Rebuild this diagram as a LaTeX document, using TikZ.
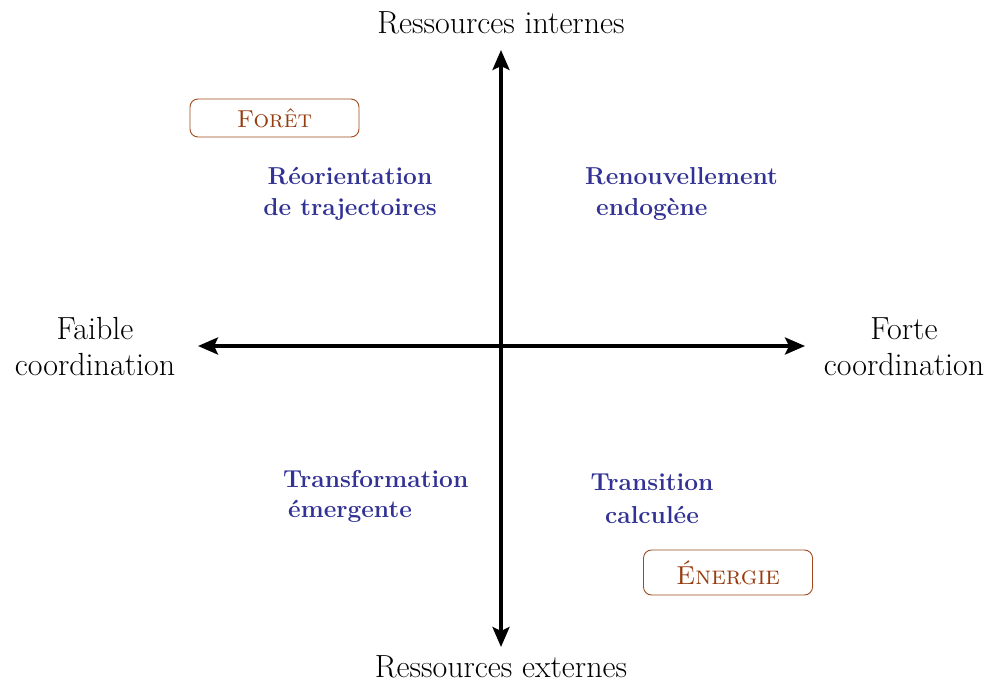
\documentclass[tikz,border=0pt]{standalone}
\usetikzlibrary{arrows.meta}
\definecolor{quadblue}{RGB}{50,50,150}
\definecolor{boxbrown}{RGB}{160,75,30}
\definecolor{boxtext}{RGB}{150,60,15}
\begin{document}
\begin{tikzpicture}[x=1pt,y=-1pt,
  axis/.style={line width=3.6pt,-{Stealth[length=20pt,width=17pt,inset=4pt]}},
  axlabel/.style={inner sep=0pt,font=\fontsize{32}{36}\selectfont,align=center},
  quad/.style={inner sep=0pt,text=quadblue,font=\fontsize{24.5}{33}\selectfont\bfseries},
  sector/.style={draw=boxbrown,line width=0.9pt,rounded corners=8pt,text=boxtext,
    minimum width=169pt,minimum height=38pt,inner sep=0pt,font=\fontsize{24.5}{28}\selectfont\scshape}]
\useasboundingbox (0,0) rectangle (990,682);
\coordinate (c) at (501,346);
\coordinate (top) at (501,50);
\coordinate (bot) at (501,647);
\coordinate (lft) at (198,346);
\coordinate (rgt) at (805,346);
\draw[axis] (c) -- (top);
\draw[axis] (c) -- (bot);
\draw[axis] (c) -- (lft);
\draw[axis] (c) -- (rgt);
\node[axlabel] (ri) at (501,23) {Ressources internes};
\node[axlabel] (re) at (501,667) {Ressources externes};
\node[axlabel] (fa) at (95,347) {Faible\\coordination};
\node[axlabel] (fo) at (904,347) {Forte\\coordination};
\node[quad] (q1a) at (350,176) {Réorientation};
\node[quad] (q1b) at (350,209) {de trajectoires};
\node[quad,anchor=west] (q2a) at (585,176) {Renouvellement};
\node[quad,anchor=west] (q2b) at (596,209) {endogène};
\node[quad,anchor=west] (q3a) at (283,479) {Transformation};
\node[quad,anchor=west] (q3b) at (288,511) {émergente};
\node[quad] (q4a) at (652,482) {Transition};
\node[quad] (q4b) at (652,515) {calculée};
\node[sector] (foret) at (274.5,118) {Forêt};
\node[sector,minimum height=45pt,font=\fontsize{26}{30}\selectfont\scshape] (energie) at (728,572.5) {Énergie};
\end{tikzpicture}
\end{document}
